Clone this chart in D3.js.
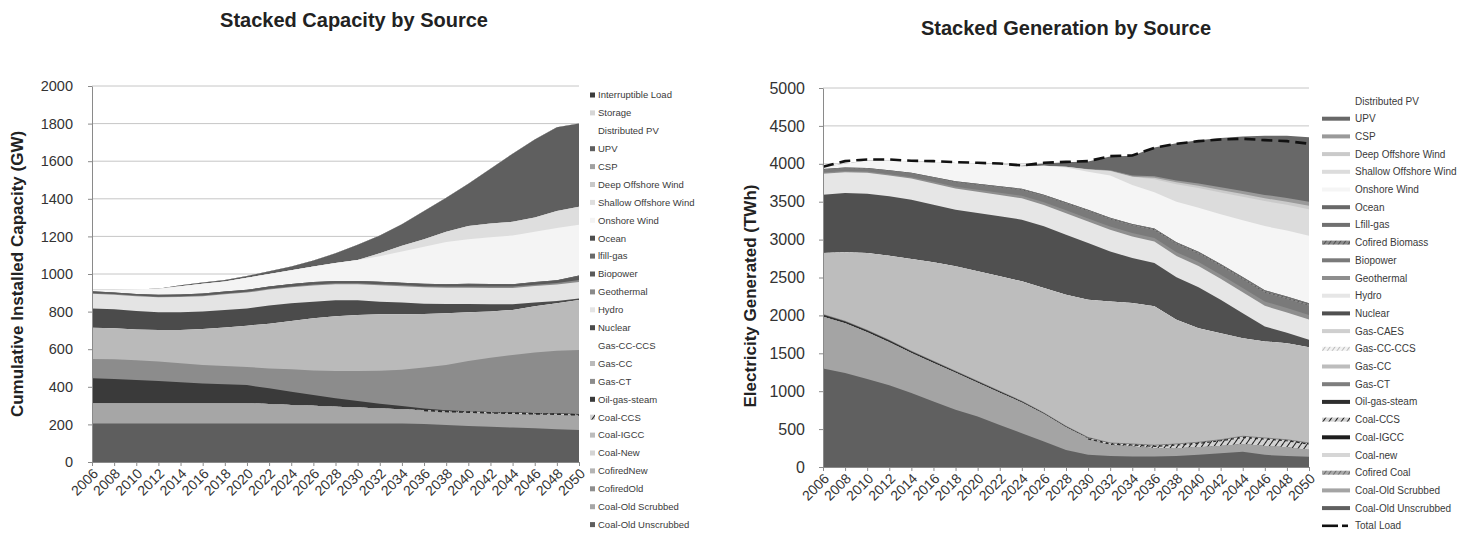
<!DOCTYPE html>
<html>
<head>
<meta charset="utf-8">
<script src="https://d3js.org/d3.v7.min.js"></script>
<style>
  html, body { margin: 0; padding: 0; background: #fff; }
  svg { display: block; font-family: "Liberation Sans", Arial, Helvetica, sans-serif; }
</style>
</head>
<body>
<svg id="chart" width="1473" height="534"></svg>
<script>
// ---------- shared categories and tick labels ----------
const years = [2006, 2008, 2010, 2012, 2014, 2016, 2018, 2020, 2022, 2024, 2026, 2028,
               2030, 2032, 2034, 2036, 2038, 2040, 2042, 2044, 2046, 2048, 2050];
const capTicks = [0, 200, 400, 600, 800, 1000, 1200, 1400, 1600, 1800, 2000];
const genTicks = [0, 500, 1000, 1500, 2000, 2500, 3000, 3500, 4000, 4500, 5000];

// ---------- installed capacity (GW), stacked bottom to top ----------
const capCoalOldUnscrubbed = [205,205,205,205,205,205,205,205,205,205,205,205,205,205,205,202,197,192,187,183,179,174,170];
const capCoalOldScrubbed   = [107,107,107,107,107,107,107,107,103,98,94,89,85,80,75,72,70,71,72,73,74,77,77];
const capCofiredOld        = [0,0,0,0,0,0,0,0,0,0,0,0,0,0,0,0,0,0,0,0,0,0,0];
const capCofiredNew        = [0,0,0,0,0,0,0,0,0,0,0,0,0,0,0,0,0,0,0,0,0,0,0];
const capCoalNew           = [0,0,0,0,0,0,0,0,0,0,0,0,0,0,0,0,0,0,0,0,0,0,0];
const capCoalIGCC          = [0,0,0,0,0,0,0,0,0,0,0,0,0,0,0,0,0,0,0,0,0,0,0];
const capCoalCCS           = [0,0,0,0,0,0,0,0,0,0,0,0,0,0,0,3,4,5,5,6,6,6,6];
const capOilGasSteam       = [133,129,124,119,112,105,101,97,84,71,57,45,34,25,18,8,4,2,2,2,2,2,2];
const capGasCT             = [103,105,105,103,101,99,98,96,106,119,131,145,160,176,193,217,241,267,289,305,322,333,341];
const capGasCC             = [166,165,164,168,177,191,205,220,238,257,277,291,298,300,295,285,275,259,245,240,245,252,266];
const capGasCCCCS          = [0,0,0,0,0,0,0,0,0,0,0,0,0,0,0,0,0,0,0,0,0,0,0];
const capNuclear           = [103,101,98,94,94,93,93,92,96,94,89,85,78,67,62,55,49,44,39,30,21,12,8];
const capHydro             = [78,78,79,80,81,82,83,84,85,85,86,86,86,87,87,87,87,87,87,87,87,88,88];
const capGeothermal        = [3,3,3,3,4,4,4,4,5,5,5,5,5,6,6,6,6,7,7,7,7,8,10];
const capBiopower          = [7,7,7,8,8,8,9,9,10,11,11,10,10,11,11,11,11,12,12,11,12,13,20];
const capLfillGas          = [3,2,2,2,2,2,2,2,2,2,2,2,2,2,2,2,2,2,2,2,2,2,4];
const capOcean             = [0,0,0,0,0,0,0,0,0,0,0,0,0,0,0,0,0,0,0,0,0,0,0];
const capOnshoreWind       = [10,15,25,33,44,52,53,64,66,73,83,95,112,136,166,197,224,237,248,259,268,278,270];
const capShallowOffshore   = [0,0,0,0,0,0,0,0,0,0,0,0,0,15,30,40,55,70,73,73,75,90,96];
const capDeepOffshore      = [0,0,0,0,0,0,0,0,0,0,0,0,0,0,0,0,0,0,0,0,0,0,0];
const capCSP               = [0,0,0,0,0,0,0,0,0,0,0,0,0,0,0,0,0,0,0,0,0,0,0];
const capUPV               = [0,0,0,0,5,7,8,10,15,20,32,52,80,95,115,150,180,225,292,362,415,445,442];
const capDistributedPV     = [0,0,0,0,0,0,0,0,0,0,0,0,0,0,0,0,0,0,0,0,0,0,0];
const capStorage           = [0,0,0,0,0,0,0,0,0,0,0,0,0,0,0,0,0,0,0,0,0,0,0];
const capInterruptible     = [0,0,0,0,0,0,0,0,0,0,0,0,0,0,0,0,0,0,0,0,0,0,0];

// ---------- generation (TWh), stacked bottom to top ----------
const genCoalOldUnscrubbed = [1300,1240,1160,1080,975,865,755,665,555,445,335,225,160,145,140,140,145,160,180,200,160,145,135];
const genCoalOldScrubbed   = [683,656,618,567,528,507,487,446,426,406,364,300,213,146,129,107,102,100,98,104,118,115,90];
const genCofiredCoal       = [0,0,0,0,0,0,0,0,0,0,0,0,0,0,0,0,0,0,0,0,0,0,0];
const genCoalNew           = [0,0,0,0,0,0,0,0,0,0,0,0,0,0,0,0,0,0,0,0,0,0,0];
const genCoalIGCC          = [0,0,0,0,0,0,0,0,0,0,0,0,0,0,0,0,0,0,0,0,0,0,0];
const genCoalCCS           = [0,0,0,0,0,0,0,0,0,0,0,0,8,22,31,35,53,62,79,97,101,97,88];
const genOilGasSteam       = [25,24,23,22,21,20,18,16,14,12,10,8,6,0,0,0,0,0,0,0,0,0,0];
const genGasCT             = [10,10,10,10,10,10,10,10,10,10,10,10,10,10,10,10,10,10,10,10,10,10,10];
const genGasCC             = [805,902,1012,1109,1210,1298,1377,1444,1510,1576,1642,1730,1810,1862,1853,1828,1632,1500,1399,1289,1267,1267,1257];
const genGasCCCCS          = [0,0,0,0,0,0,0,0,0,0,0,0,0,0,0,0,0,0,0,0,0,0,0];
const genGasCAES           = [0,0,0,0,0,0,0,0,0,0,0,0,0,0,0,0,0,0,0,0,0,0,0];
const genNuclear           = [770,783,783,783,783,761,748,770,792,814,814,791,747,659,593,570,560,540,440,330,198,136,100];
const genHydro             = [277,275,275,275,278,280,280,280,282,282,282,285,285,285,285,285,283,280,278,275,272,268,265];
const genGeothermal        = [15,15,16,17,19,21,23,26,29,32,35,38,41,43,45,47,49,51,53,55,57,58,60];
const genBiopower          = [38,40,42,45,50,54,60,66,72,78,84,90,96,98,100,103,107,111,114,116,118,120,122];
const genCofiredBiomass    = [0,0,0,0,0,0,2,3,4,5,6,7,8,9,10,11,12,13,14,15,16,17,18];
const genLfillGas          = [7,7,7,8,9,10,10,10,10,10,10,10,10,10,10,11,12,13,14,14,14,15,15];
const genOcean             = [0,0,0,0,0,0,0,0,0,0,0,0,0,0,0,0,0,0,0,0,0,0,0];
const genOnshoreWind       = [25,48,94,129,147,199,242,269,291,295,383,456,501,556,514,478,535,580,654,750,847,872,890];
const genShallowOffshore   = [0,0,0,0,0,0,0,0,0,0,0,10,30,60,110,170,230,260,290,310,330,340,350];
const genDeepOffshore      = [0,0,0,0,0,0,0,0,0,0,0,0,0,0,0,20,25,30,32,35,37,40,45];
const genCSP               = [0,0,0,0,0,0,0,0,0,0,0,0,5,10,15,20,25,30,35,40,45,50,55];
const genUPV               = [0,0,0,0,0,0,0,0,0,10,30,60,100,180,260,380,490,570,650,720,780,820,850];
const genDistributedPV     = [0,0,0,0,0,0,0,0,0,0,0,0,0,0,0,0,0,0,0,0,0,0,0];
const genTotalLoad         = [3960,4035,4057,4057,4040,4035,4022,4013,4004,3978,4013,4026,4035,4101,4110,4211,4264,4299,4321,4330,4312,4299,4265];

// ---------- series lists (stack order, bottom first) ----------
const capSeries = [
  ["Coal-Old Unscrubbed", capCoalOldUnscrubbed], ["Coal-Old Scrubbed", capCoalOldScrubbed],
  ["CofiredOld", capCofiredOld], ["CofiredNew", capCofiredNew], ["Coal-New", capCoalNew],
  ["Coal-IGCC", capCoalIGCC], ["Coal-CCS", capCoalCCS], ["Oil-gas-steam", capOilGasSteam],
  ["Gas-CT", capGasCT], ["Gas-CC", capGasCC], ["Gas-CC-CCS", capGasCCCCS], ["Nuclear", capNuclear],
  ["Hydro", capHydro], ["Geothermal", capGeothermal], ["Biopower", capBiopower],
  ["lfill-gas", capLfillGas], ["Ocean", capOcean], ["Onshore Wind", capOnshoreWind],
  ["Shallow Offshore Wind", capShallowOffshore], ["Deep Offshore Wind", capDeepOffshore],
  ["CSP", capCSP], ["UPV", capUPV], ["Distributed PV", capDistributedPV],
  ["Storage", capStorage], ["Interruptible Load", capInterruptible]
];
const genSeries = [
  ["Coal-Old Unscrubbed", genCoalOldUnscrubbed], ["Coal-Old Scrubbed", genCoalOldScrubbed],
  ["Cofired Coal", genCofiredCoal], ["Coal-new", genCoalNew], ["Coal-IGCC", genCoalIGCC],
  ["Coal-CCS", genCoalCCS], ["Oil-gas-steam", genOilGasSteam], ["Gas-CT", genGasCT],
  ["Gas-CC", genGasCC], ["Gas-CC-CCS", genGasCCCCS], ["Gas-CAES", genGasCAES],
  ["Nuclear", genNuclear], ["Hydro", genHydro], ["Geothermal", genGeothermal],
  ["Biopower", genBiopower], ["Cofired Biomass", genCofiredBiomass], ["Lfill-gas", genLfillGas],
  ["Ocean", genOcean], ["Onshore Wind", genOnshoreWind], ["Shallow Offshore Wind", genShallowOffshore],
  ["Deep Offshore Wind", genDeepOffshore], ["CSP", genCSP], ["UPV", genUPV],
  ["Distributed PV", genDistributedPV]
];

// ---------- fills ----------
const svg = d3.select("#chart");
svg.append("rect").attr("width", 1473).attr("height", 534).attr("fill", "#fff");
const defs = svg.append("defs");
function hatch(id, bg, fg, w, gap, angle) {
  const p = defs.append("pattern").attr("id", id).attr("patternUnits", "userSpaceOnUse")
    .attr("width", gap).attr("height", gap).attr("patternTransform", `rotate(${angle})`);
  p.append("rect").attr("width", gap).attr("height", gap).attr("fill", bg);
  p.append("line").attr("x1", 0).attr("y1", 0).attr("x2", 0).attr("y2", gap)
    .attr("stroke", fg).attr("stroke-width", w);
  return `url(#${id})`;
}
const hCoalCCS  = hatch("hCoalCCS", "#d2d2d2", "#1c1c1c", 2, 5, 35);
const hCofired  = hatch("hCofired", "#a8a8a8", "#555", 1.5, 4, 35);
const hGasCCS   = hatch("hGasCCS", "#f2f2f2", "#9a9a9a", 1.2, 4, 35);
const hBiomass  = hatch("hBiomass", "#8a8a8a", "#3c3c3c", 1.5, 4, 35);

const capFill = {
  "Coal-Old Unscrubbed": "#5e5e5e", "Coal-Old Scrubbed": "#a6a6a6", "CofiredOld": "#8e8e8e",
  "CofiredNew": "#b4b4b4", "Coal-New": "#d4d4d4", "Coal-IGCC": "#bcbcbc", "Coal-CCS": hCoalCCS,
  "Oil-gas-steam": "#3a3a3a", "Gas-CT": "#8c8c8c", "Gas-CC": "#bababa", "Gas-CC-CCS": "#ffffff",
  "Nuclear": "#4b4b4b", "Hydro": "#e4e4e4", "Geothermal": "#8a8a8a", "Biopower": "#5a5a5a",
  "lfill-gas": "#6a6a6a", "Ocean": "#4e4e4e", "Onshore Wind": "#f4f4f4",
  "Shallow Offshore Wind": "#dedede", "Deep Offshore Wind": "#c8c8c8", "CSP": "#a0a0a0",
  "UPV": "#5f5f5f", "Distributed PV": "#ffffff", "Storage": "#d6d6d6", "Interruptible Load": "#3c3c3c"
};
const genFill = {
  "Coal-Old Unscrubbed": "#606060", "Coal-Old Scrubbed": "#a4a4a4", "Cofired Coal": hCofired,
  "Coal-new": "#d6d6d6", "Coal-IGCC": "#1e1e1e", "Coal-CCS": hCoalCCS, "Oil-gas-steam": "#2e2e2e",
  "Gas-CT": "#7e7e7e", "Gas-CC": "#bdbdbd", "Gas-CC-CCS": hGasCCS, "Gas-CAES": "#cfcfcf",
  "Nuclear": "#505050", "Hydro": "#e6e6e6", "Geothermal": "#8e8e8e", "Biopower": "#7a7a7a",
  "Cofired Biomass": hBiomass, "Lfill-gas": "#707070", "Ocean": "#686868",
  "Onshore Wind": "#f5f5f5", "Shallow Offshore Wind": "#dcdcdc", "Deep Offshore Wind": "#cacaca",
  "CSP": "#9a9a9a", "UPV": "#686868", "Distributed PV": "#ffffff"
};

// ---------- one stacked-area panel ----------
function drawPanel(o) {
  const g = svg.append("g");
  const x = d3.scaleLinear().domain([years[0], years[years.length - 1]]).range([o.x0, o.x1]);
  const y = d3.scaleLinear().domain([0, o.ticks[o.ticks.length - 1]]).range([o.yb, o.yt]);

  // horizontal gridlines
  g.append("g").selectAll("line").data(o.ticks.filter(t => t > 0)).join("line")
    .attr("x1", o.x0).attr("x2", o.x1).attr("y1", d => y(d)).attr("y2", d => y(d))
    .attr("stroke", "#c6c6c6").attr("stroke-width", 1);

  // stacked layers: each painted from the baseline up to its top, top layer first,
  // so lower layers cover the rest and no seams show between bands
  const rows = years.map((yr, i) => {
    const r = { year: yr };
    o.series.forEach(([name, vals]) => { r[name] = vals[i]; });
    return r;
  });
  const stacked = d3.stack().keys(o.series.map(s => s[0]))(rows);
  const area = d3.area().x(d => x(d.data.year)).y0(y(0)).y1(d => y(d[1]));
  g.append("g").selectAll("path").data(stacked.slice().reverse()).join("path")
    .attr("d", area).attr("fill", d => o.fill[d.key]);

  // dashed edge on the thin Coal-CCS band
  const ccs = stacked.find(s => s.key === "Coal-CCS");
  const ccsVals = o.series.find(s => s[0] === "Coal-CCS")[1];
  g.append("path").datum(ccs)
    .attr("d", d3.line().defined((d, i) => ccsVals[i] > 0).x(d => x(d.data.year)).y(d => y(d[1]) + o.ccsEdgeOffset))
    .attr("fill", "none").attr("stroke", "#2a2a2a").attr("stroke-width", o.ccsEdgeWidth)
    .attr("stroke-dasharray", o.ccsDash);

  // total load line
  if (o.load) {
    g.append("path").datum(o.load)
      .attr("d", d3.line().x((d, i) => x(years[i])).y(d => y(d)))
      .attr("fill", "none").attr("stroke", "#111").attr("stroke-width", 2.6)
      .attr("stroke-dasharray", "11,6");
  }

  // axes
  const yAxis = d3.axisLeft(y).tickValues(o.ticks).tickFormat(d3.format("d"))
    .tickSize(4).tickSizeOuter(0).tickPadding(o.yPad);
  const ya = g.append("g").attr("transform", `translate(${o.x0},0)`).call(yAxis);
  ya.select(".domain").attr("stroke", "#8a8a8a");
  ya.selectAll(".tick line").attr("stroke", "#8a8a8a");
  ya.selectAll(".tick text").attr("fill", "#333").attr("font-size", o.yFont)
    .attr("font-family", "Liberation Sans, Arial, sans-serif");

  const xAxis = d3.axisBottom(x).tickValues(years).tickFormat(d3.format("d"))
    .tickSize(4).tickSizeOuter(0);
  const xa = g.append("g").attr("transform", `translate(0,${o.yb})`).call(xAxis);
  xa.select(".domain").attr("stroke", "#8a8a8a");
  xa.selectAll(".tick line").attr("stroke", "#8a8a8a");
  xa.selectAll(".tick text").attr("fill", "#333").attr("font-size", o.xFont)
    .attr("font-family", "Liberation Sans, Arial, sans-serif")
    .attr("text-anchor", "end").attr("x", 0).attr("y", 0).attr("dy", "0.35em")
    .attr("transform", `translate(${o.xLabDx},${o.xLabDy}) rotate(-45)`);

  // titles
  svg.append("text").attr("x", o.titleX).attr("y", o.titleY).attr("text-anchor", "middle")
    .attr("font-size", o.titleFont).attr("font-weight", "bold").attr("fill", "#222").text(o.title);
  svg.append("text").attr("transform", `translate(${o.yLabelX},${o.yLabelY}) rotate(-90)`)
    .attr("text-anchor", "middle").attr("font-size", o.yLabelFont).attr("font-weight", "bold")
    .attr("fill", "#222").text(o.yLabel);
}

drawPanel({
  series: capSeries, fill: capFill, ticks: capTicks,
  x0: 92, x1: 579, yb: 462, yt: 86, yPad: 15, yFont: "14.5px", xFont: "14px",
  xLabDx: 3, xLabDy: 9, ccsEdgeOffset: 0.5, ccsEdgeWidth: 1.6, ccsDash: "4,3",
  title: "Stacked Capacity by Source", titleX: 354, titleY: 27, titleFont: "20px",
  yLabel: "Cumulative Installed Capacity (GW)", yLabelX: 23, yLabelY: 274, yLabelFont: "17px"
});
drawPanel({
  series: genSeries, fill: genFill, ticks: genTicks, load: genTotalLoad,
  x0: 823, x1: 1309, yb: 467, yt: 88, yPad: 14, yFont: "16px", xFont: "14px",
  xLabDx: 3, xLabDy: 9, ccsEdgeOffset: 0.8, ccsEdgeWidth: 1.2, ccsDash: "3,3",
  title: "Stacked Generation by Source", titleX: 1066, titleY: 35, titleFont: "20px",
  yLabel: "Electricity Generated (TWh)", yLabelX: 756, yLabelY: 296, yLabelFont: "17px"
});

// ---------- legends ----------
const capLegend = capSeries.map(s => s[0]).reverse();
const capLg = svg.append("g");
capLegend.forEach((name, i) => {
  const cy = 95 + i * 17.9;
  capLg.append("rect").attr("x", 590).attr("y", cy - 2.5).attr("width", 5).attr("height", 5)
    .attr("fill", capFill[name]);
  capLg.append("text").attr("x", 598).attr("y", cy).attr("dy", "0.35em")
    .attr("font-size", "9.5px").attr("fill", "#3a3a3a").text(name);
});

const genLegend = genSeries.map(s => s[0]).reverse();
const genLg = svg.append("g");
genLegend.forEach((name, i) => {
  const cy = 101 + i * 17.7;
  genLg.append("rect").attr("x", 1322).attr("y", cy - 2).attr("width", 28).attr("height", 4)
    .attr("fill", genFill[name]);
  genLg.append("text").attr("x", 1355).attr("y", cy).attr("dy", "0.35em")
    .attr("font-size", "10px").attr("fill", "#3a3a3a").text(name);
});
{
  const cy = 101 + genLegend.length * 17.7;
  genLg.append("line").attr("x1", 1322).attr("x2", 1338).attr("y1", cy).attr("y2", cy)
    .attr("stroke", "#111").attr("stroke-width", 2.6);
  genLg.append("line").attr("x1", 1342).attr("x2", 1348).attr("y1", cy).attr("y2", cy)
    .attr("stroke", "#111").attr("stroke-width", 2.6);
  genLg.append("text").attr("x", 1355).attr("y", cy).attr("dy", "0.35em")
    .attr("font-size", "10px").attr("fill", "#3a3a3a").text("Total Load");
}
</script>
</body>
</html>
